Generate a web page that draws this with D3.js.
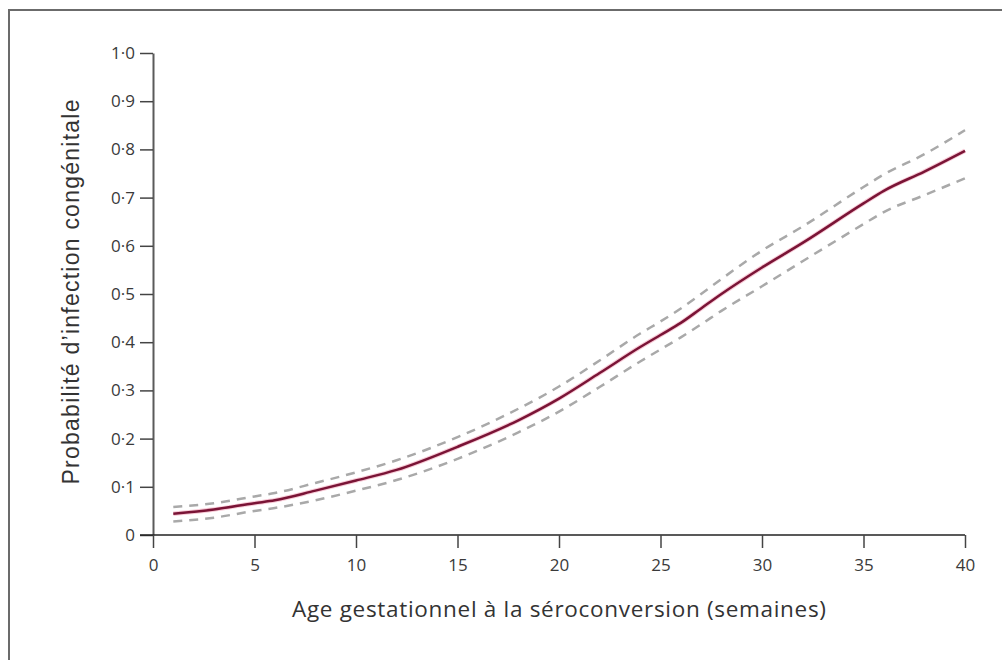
<!DOCTYPE html>
<html><head><meta charset="utf-8">
<script src="https://cdn.jsdelivr.net/npm/d3@7"></script>
<style>body{margin:0;background:#fff}svg{display:block}</style>
</head><body><svg id="c" width="1002" height="660"></svg>
<script>
const weeks = [1,3,5,6,8,10,12,15,18,20,22,24,25,26,27,28,30,32,35,36,38,40];
const estimate = [0.044,0.053,0.066,0.072,0.092,0.113,0.135,0.183,0.238,0.283,0.336,0.39,0.415,0.440,0.470,0.500,0.555,0.606,0.688,0.714,0.754,0.797];
const upper = [0.058,0.066,0.080,0.087,0.108,0.130,0.155,0.203,0.262,0.308,0.362,0.418,0.443,0.470,0.500,0.531,0.590,0.640,0.722,0.748,0.790,0.840];
const lower = [0.028,0.036,0.050,0.056,0.072,0.092,0.114,0.158,0.213,0.256,0.307,0.360,0.385,0.410,0.437,0.465,0.516,0.568,0.645,0.670,0.705,0.740];
const xTicks = [0,5,10,15,20,25,30,35,40];
const yTicks = [0,0.1,0.2,0.3,0.4,0.5,0.6,0.7,0.8,0.9,1.0];
const xTitle = "Age gestationnel à la séroconversion (semaines)";
const yTitle = "Probabilité d’infection congénitale";

const svg = d3.select("#c");
const x = d3.scaleLinear().domain([0,40]).range([153,965]);
const y = d3.scaleLinear().domain([0,1]).range([535,53]);

// frame (left and top only)
svg.append("path").attr("d","M9,660 V10 H1002").attr("fill","none").attr("stroke","#6b6b6b").attr("stroke-width",2);

const fmt = v => v===0 ? "0" : d3.format(".1f")(v).replace(".", "·");

const yAxis = svg.append("g").attr("transform","translate(153,0)")
  .call(d3.axisLeft(y).tickValues(yTicks).tickFormat(fmt).tickSize(13).tickSizeOuter(0).tickPadding(5));
yAxis.select(".domain").attr("stroke","#5a5a5a").attr("stroke-width",2);
yAxis.selectAll(".tick line").attr("stroke","#444").attr("stroke-width",1.5);
yAxis.selectAll(".tick text").attr("font-family","Open Sans, sans-serif").attr("font-size",17).attr("fill","#3a3a3a");

const xAxis = svg.append("g").attr("transform","translate(0,535)")
  .call(d3.axisBottom(x).tickValues(xTicks).tickFormat(d3.format("d")).tickSize(13).tickSizeOuter(0).tickPadding(11));
xAxis.select(".domain").attr("d","M140,0H965").attr("stroke","#222").attr("stroke-width",1.6);
xAxis.selectAll(".tick line").attr("stroke","#444").attr("stroke-width",1.5);
xAxis.selectAll(".tick text").attr("font-family","Open Sans, sans-serif").attr("font-size",17).attr("fill","#3a3a3a");

const line = d3.line().x((d,i)=>x(weeks[i])).y(d=>y(d)).curve(d3.curveMonotoneX);

svg.append("path").datum(upper).attr("d",line).attr("fill","none")
  .attr("stroke","#a9a9a9").attr("stroke-width",2.5).attr("stroke-dasharray","9,7");
svg.append("path").datum(lower).attr("d",line).attr("fill","none")
  .attr("stroke","#a9a9a9").attr("stroke-width",2.5).attr("stroke-dasharray","9,7");
svg.append("path").datum(estimate).attr("d",line).attr("fill","none")
  .attr("stroke","#f3a9bd").attr("stroke-width",4.5).attr("opacity",0.6);
svg.append("path").datum(estimate).attr("d",line).attr("fill","none")
  .attr("stroke","#7a1436").attr("stroke-width",2.5);

svg.append("text").attr("x",559).attr("y",617).attr("text-anchor","middle")
  .attr("font-family","Open Sans, sans-serif").attr("font-size",22.5).attr("fill","#333")
  .attr("textLength",534).attr("lengthAdjust","spacing").text(xTitle);
svg.append("text").attr("transform","translate(79,292) rotate(-90)").attr("text-anchor","middle")
  .attr("font-family","Liberation Sans, Arial, sans-serif").attr("font-size",23).attr("fill","#333")
  .attr("textLength",385).attr("lengthAdjust","spacing").text(yTitle);
</script></body></html>
